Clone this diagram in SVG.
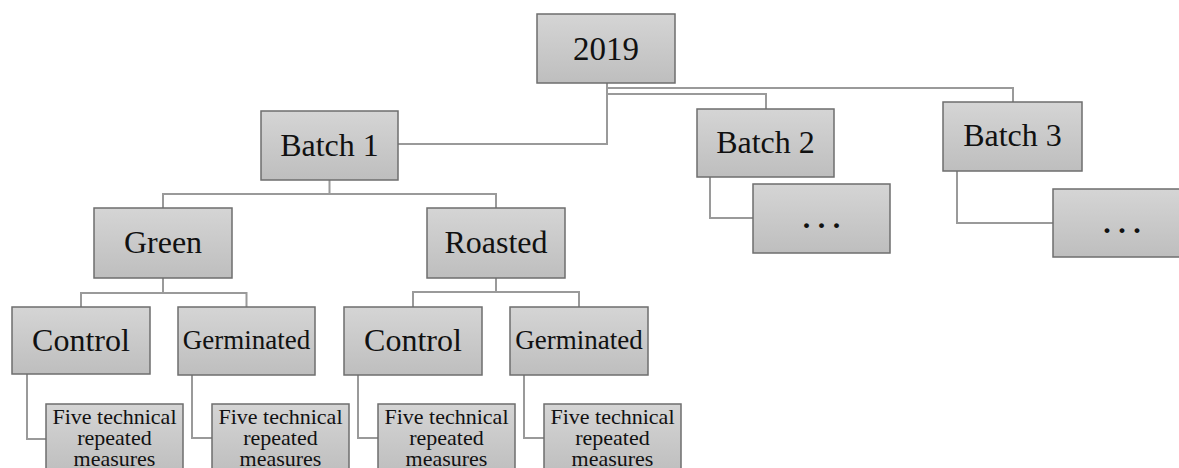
<svg xmlns="http://www.w3.org/2000/svg" width="1179" height="468" viewBox="0 0 1179 468">
<defs>
<linearGradient id="g" x1="0" y1="0" x2="0" y2="1">
<stop offset="0" stop-color="#d5d5d5"/>
<stop offset="1" stop-color="#bebebe"/>
</linearGradient>
<style>
.box{fill:url(#g);stroke:#6e6e6e;stroke-width:1.5}
.t{font-family:"Liberation Serif","Times New Roman",serif;fill:#111;text-anchor:middle}
.l1{font-size:32px}
.l0{font-size:33px}
.gm{font-size:27px}
.ft{font-size:22px}
.dots{font-size:30px;font-weight:bold}
.c{fill:none;stroke:#9a9a9a;stroke-width:2}
</style>
</defs>
<rect width="1179" height="468" fill="#fff"/>
<g id="connectors" class="c">
<path d="M607 83 V144 H398"/>
<path d="M607 88 H1013 V102"/>
<path d="M607 94 H766 V109"/>
<path d="M710 177 V218 H753"/>
<path d="M957 171 V223 H1053"/>
<path d="M329.5 180 V194 M163 208 V194 H496 V208"/>
<path d="M163 278 V293 M81 307 V293 H246.5 V307"/>
<path d="M496 278 V292 M413 307 V292 H579 V307"/>
<path d="M27 374 V439 H46"/>
<path d="M192 375 V438 H212"/>
<path d="M358 375 V438 H378"/>
<path d="M524 375 V438 H544"/>
</g>
<g id="n2019"><rect class="box" x="537" y="14" width="138" height="69"/><text class="t l0" x="606" y="59.5">2019</text></g>
<g id="batch1"><rect class="box" x="261" y="111" width="137" height="69"/><text class="t l1" x="329.5" y="155.5">Batch 1</text></g>
<g id="batch2"><rect class="box" x="697" y="109" width="137" height="68"/><text class="t l1" x="765.5" y="152.5">Batch 2</text></g>
<g id="batch3"><rect class="box" x="943" y="102" width="139" height="69"/><text class="t l1" x="1012.5" y="146">Batch 3</text></g>
<g id="b2more"><rect class="box" x="753" y="184" width="137" height="69"/><text class="t dots" x="821.5" y="228">. . .</text></g>
<g id="b3more"><rect class="box" x="1053" y="189" width="138" height="68"/><text class="t dots" x="1122" y="233">. . .</text></g>
<g id="green"><rect class="box" x="94" y="208" width="138" height="70"/><text class="t l1" x="163" y="252.5">Green</text></g>
<g id="roasted"><rect class="box" x="427" y="208" width="138" height="70"/><text class="t l1" x="496" y="252.5">Roasted</text></g>
<g id="control1"><rect class="box" x="12" y="307" width="138" height="67"/><text class="t l1" x="81" y="351">Control</text></g>
<g id="germ1"><rect class="box" x="178" y="307" width="137" height="68"/><text class="t gm" x="246.5" y="349">Germinated</text></g>
<g id="control2"><rect class="box" x="344" y="307" width="138" height="68"/><text class="t l1" x="413" y="351">Control</text></g>
<g id="germ2"><rect class="box" x="510" y="307" width="138" height="68"/><text class="t gm" x="579" y="349">Germinated</text></g>
<g id="ft1"><rect class="box" x="46" y="404" width="137" height="70"/><text class="t ft" x="114.5" y="424">Five technical</text><text class="t ft" x="114.5" y="445">repeated</text><text class="t ft" x="114.5" y="466">measures</text></g>
<g id="ft2"><rect class="box" x="212" y="404" width="137" height="70"/><text class="t ft" x="280.5" y="424">Five technical</text><text class="t ft" x="280.5" y="445">repeated</text><text class="t ft" x="280.5" y="466">measures</text></g>
<g id="ft3"><rect class="box" x="378" y="404" width="137" height="70"/><text class="t ft" x="446.5" y="424">Five technical</text><text class="t ft" x="446.5" y="445">repeated</text><text class="t ft" x="446.5" y="466">measures</text></g>
<g id="ft4"><rect class="box" x="544" y="404" width="137" height="70"/><text class="t ft" x="612.5" y="424">Five technical</text><text class="t ft" x="612.5" y="445">repeated</text><text class="t ft" x="612.5" y="466">measures</text></g>
</svg>
